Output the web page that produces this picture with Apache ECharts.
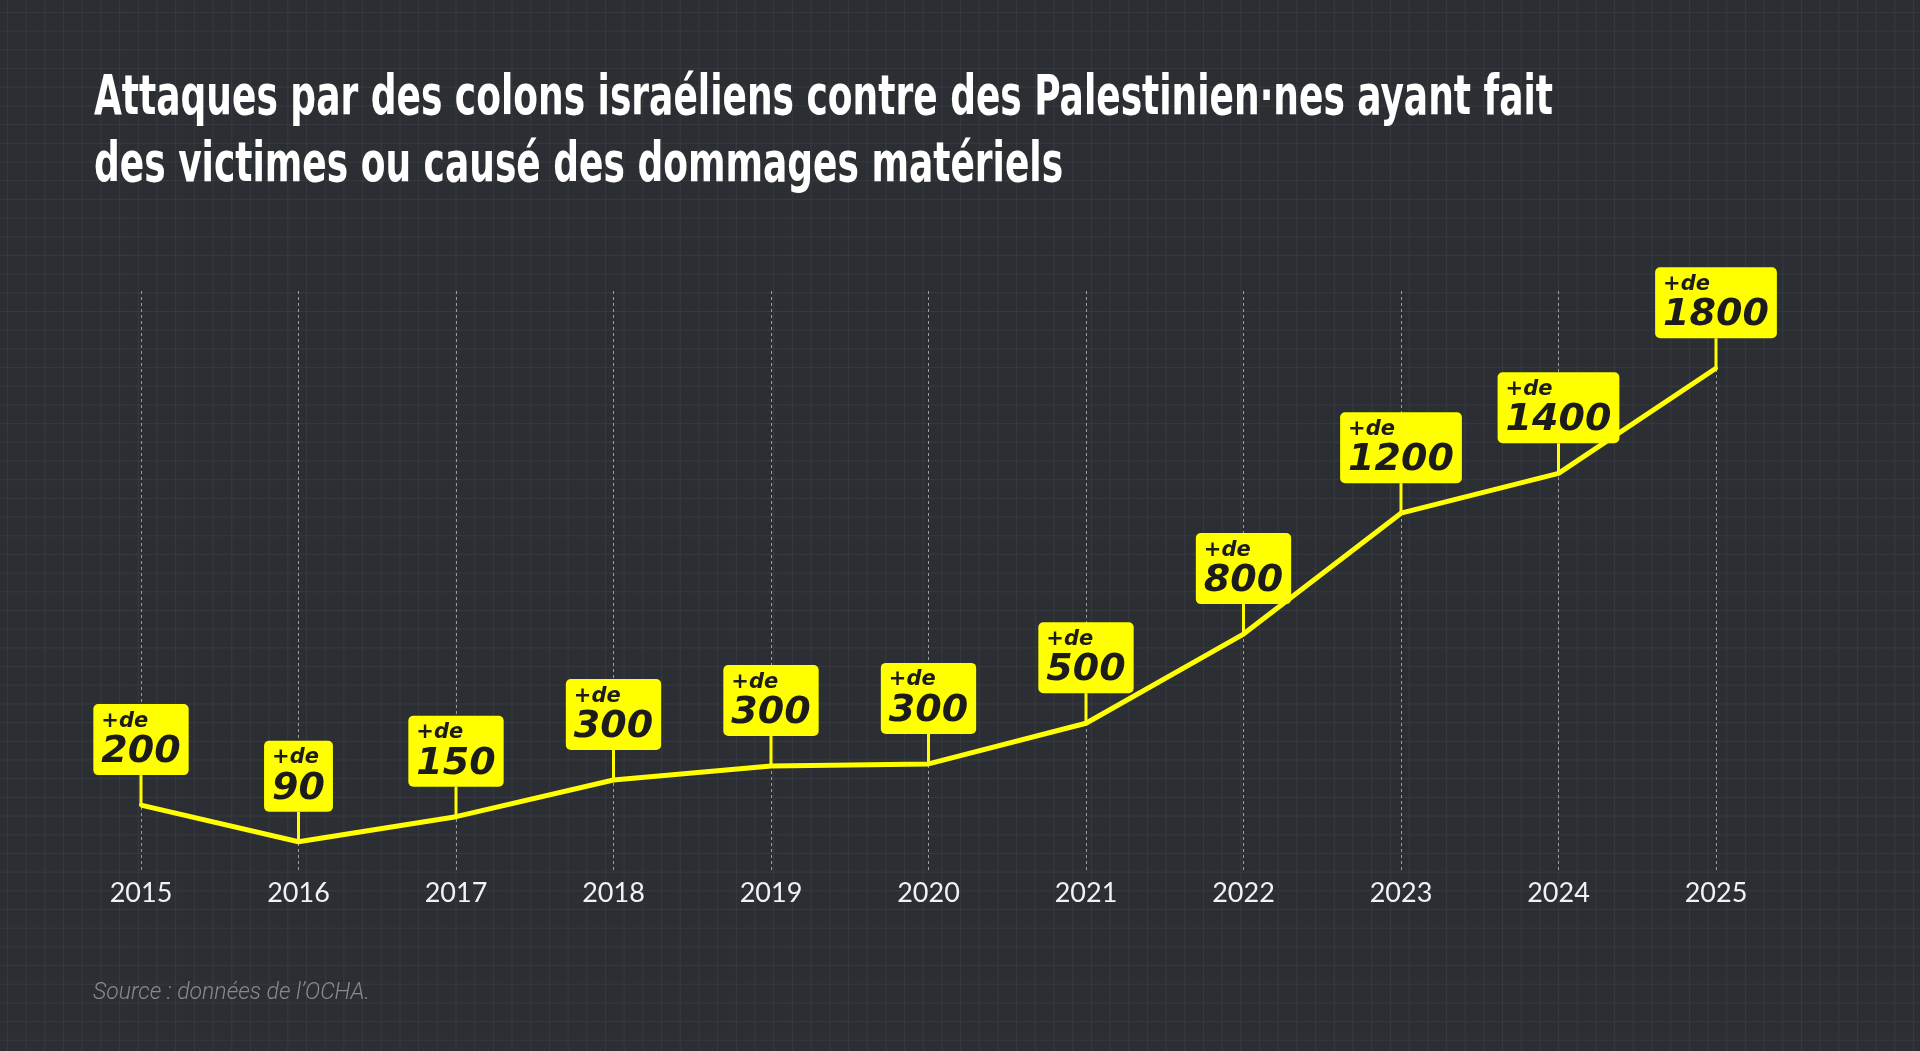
<!DOCTYPE html>
<html lang="fr">
<head>
<meta charset="utf-8">
<title>Attaques par des colons israéliens</title>
<script src="https://cdn.jsdelivr.net/npm/echarts@6/dist/echarts.min.js"></script>
<style>
  html, body {
    margin: 0;
    padding: 0;
    background-color: #2b2e33;
    background-image:
      linear-gradient(to right, #363a40 1px, transparent 1px),
      linear-gradient(to bottom, #363a40 1px, transparent 1px);
    background-size: 18.7px 18.7px;
    background-position: 7px 12px;
  }
  #chart { width: 1920px; height: 1051px; }
</style>
</head>
<body>
<div id="chart"></div>
<script>
const years = ['2015', '2016', '2017', '2018', '2019', '2020', '2021', '2022', '2023', '2024', '2025'];
const attacks = [241, 105, 198, 334, 386, 394, 545, 876, 1325, 1473, 1863];
// the "+de N" figure printed in each label
const labelFloors = [200, 90, 150, 300, 300, 300, 500, 800, 1200, 1400, 1800];

const titleLines = [
  'Attaques par des colons israéliens contre des Palestinien·nes ayant fait',
  'des victimes ou causé des dommages matériels'
];
const sourceText = 'Source : données de l’OCHA.';

const YELLOW = '#ffff00';
const STEM = 30;
const titleFont = 'bold 55px "Liberation Sans Narrow", "DejaVu Sans Condensed", "Liberation Sans", sans-serif';

// squeeze the title to the width it has in the original (condensed face)
const ctx = document.createElement('canvas').getContext('2d');
ctx.font = titleFont;
const titleScale = 1459 / ctx.measureText(titleLines[0]).width;

const chart = echarts.init(document.getElementById('chart'));

const labelText = {
  fontFamily: '"DejaVu Sans", sans-serif',
  fontStyle: 'italic',
  fontWeight: 'bold',
  color: '#1c1c1c',
  align: 'left'
};

const option = {
  animation: false,
  backgroundColor: 'transparent',
  grid: { left: 141, right: 204, top: 291, bottom: 181 },
  xAxis: {
    type: 'category',
    data: years,
    boundaryGap: false,
    axisLine: { show: false },
    axisTick: { show: false },
    axisLabel: {
      color: '#f2f2f2',
      fontFamily: 'Lato, sans-serif',
      fontSize: 27,
      margin: 10
    },
    splitLine: {
      show: true,
      lineStyle: { color: '#9c9c9c', width: 1, type: [3, 3] }
    }
  },
  yAxis: {
    type: 'value',
    min: 0,
    max: 2150,
    show: false,
    splitLine: { show: false }
  },
  graphic: [
    ...titleLines.map((t, i) => ({
      type: 'text',
      x: 94,
      y: 100 + i * 67,
      scaleX: titleScale,
      originX: 0,
      style: {
        text: t,
        font: titleFont,
        fill: '#ffffff',
        verticalAlign: 'middle'
      }
    })),
    {
      type: 'text',
      x: 93,
      y: 993,
      style: {
        text: sourceText,
        fontFamily: 'Roboto, sans-serif',
        fontStyle: 'italic',
        fontWeight: 300,
        fontSize: 23,
        fill: '#8a8a8a',
        verticalAlign: 'middle'
      }
    }
  ],
  series: [
    {
      type: 'custom',
      z: 2,
      silent: true,
      data: attacks.map((v, i) => [i, v]),
      renderItem: (params, api) => {
        const p = api.coord([api.value(0), api.value(1)]);
        return {
          type: 'line',
          shape: { x1: p[0], y1: p[1], x2: p[0], y2: p[1] - STEM },
          style: { stroke: YELLOW, lineWidth: 3 }
        };
      }
    },
    {
      type: 'line',
      z: 3,
      data: attacks,
      showSymbol: true,
      symbol: 'circle',
      symbolSize: 4,
      itemStyle: { color: YELLOW },
      lineStyle: { color: YELLOW, width: 5 },
      label: {
        show: true,
        position: 'top',
        distance: STEM - 2,
        backgroundColor: YELLOW,
        borderRadius: 5,
        padding: [6, 8, 3, 8],
        formatter: p => '{a|+de}\n{b|' + labelFloors[p.dataIndex] + '}',
        rich: {
          a: Object.assign({ fontSize: 21, lineHeight: 22 }, labelText),
          b: Object.assign({ fontSize: 38, lineHeight: 40 }, labelText)
        }
      }
    }
  ]
};

chart.setOption(option);
window.addEventListener('resize', () => chart.resize());
</script>
</body>
</html>
